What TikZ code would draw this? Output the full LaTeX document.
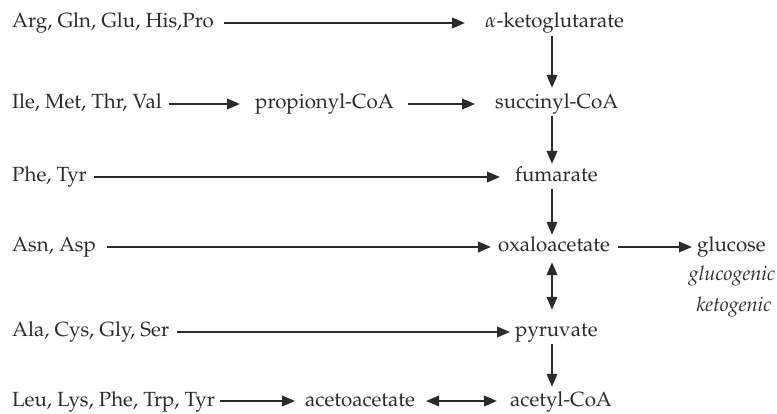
\documentclass[tikz,border=0pt]{standalone}
\usepackage[T1]{fontenc}
\usepackage{mathpazo}
\usetikzlibrary{arrows.meta}
\definecolor{ink}{RGB}{45,42,43}
\begin{document}
\begin{tikzpicture}[x=1pt,y=-1pt,
  lbl/.style={inner sep=0pt,text height=15pt,text depth=5pt,anchor=west,text=ink,font=\fontsize{20.5}{24}\selectfont},
  note/.style={inner sep=0pt,text height=15pt,text depth=5pt,text=ink,font=\fontsize{20}{24}\selectfont\itshape},
  arr/.style={draw=ink,line width=2.2pt,-{Triangle[length=13pt,width=10.5pt]}},
  darr/.style={draw=ink,line width=2.2pt,{Triangle[length=13pt,width=10.5pt]}-{Triangle[length=13pt,width=10.5pt]}}]
\useasboundingbox (0,0) rectangle (777,414);
\coordinate (col) at (552,0);
\node[lbl] (arg) at (12,23) {Arg, Gln, Glu, His,Pro};
\node[lbl] (akg) at (485,23) {$\alpha$-ketoglutarate};
\node[lbl] (ile) at (12,104) {Ile, Met, Thr, Val};
\node[lbl] (prop) at (255,104) {propionyl-CoA};
\node[lbl] (succ) at (495,104) {succinyl-CoA};
\node[lbl] (phe) at (12,177) {Phe, Tyr};
\node[lbl] (fum) at (515,177) {fumarate};
\node[lbl] (asn) at (12,247) {Asn, Asp};
\node[lbl] (oaa) at (498,247) {oxaloacetate};
\node[lbl] (glc) at (697,247) {glucose};
\node[note] (gluco) at (732,276) {glucogenic};
\node[note] (keto) at (734,307) {ketogenic};
\node[lbl] (ala) at (12,332) {Ala, Cys, Gly, Ser};
\node[lbl] (pyr) at (515,332) {pyruvate};
\node[lbl] (leu) at (12,401) {Leu, Lys, Phe, Trp, Tyr};
\node[lbl] (aca) at (305,401) {acetoacetate};
\node[lbl] (acoa) at (510,401) {acetyl-CoA};
% horizontal
\draw[arr,shorten <=10pt,shorten >=20pt] (arg.east) -- (akg.west);
\draw[arr,shorten <=7pt,shorten >=15pt] (ile.east) -- (prop.west);
\draw[arr,shorten <=14pt,shorten >=20pt] (prop.east) -- (succ.west);
\draw[arr,shorten <=7pt,shorten >=15pt] (phe.east) -- (fum.west);
\draw[arr,shorten <=11pt,shorten >=7pt] (asn.east) -- (oaa.west);
\draw[arr,shorten <=8pt,shorten >=5pt] (oaa.east) -- (glc.west);
\draw[arr,shorten <=8pt,shorten >=5pt] (ala.east) -- (pyr.west);
\draw[arr,shorten <=5pt,shorten >=10pt] (leu.east) -- (aca.west);
\draw[darr,shorten <=11pt,shorten >=13pt] (aca.east) -- (acoa.west);
% vertical
\draw[arr,shorten <=3pt,shorten >=6pt] (akg.south -| col) -- (succ.north -| col);
\draw[arr,shorten <=2pt,shorten >=3pt] (succ.south -| col) -- (fum.north -| col);
\draw[arr,shorten <=2pt,shorten >=2pt] (fum.south -| col) -- (oaa.north -| col);
\draw[darr,shorten <=5pt,shorten >=12pt] (oaa.south -| col) -- (pyr.north -| col);
\draw[arr,shorten <=2pt,shorten >=4pt] (pyr.south -| col) -- (acoa.north -| col);
\end{tikzpicture}
\end{document}
